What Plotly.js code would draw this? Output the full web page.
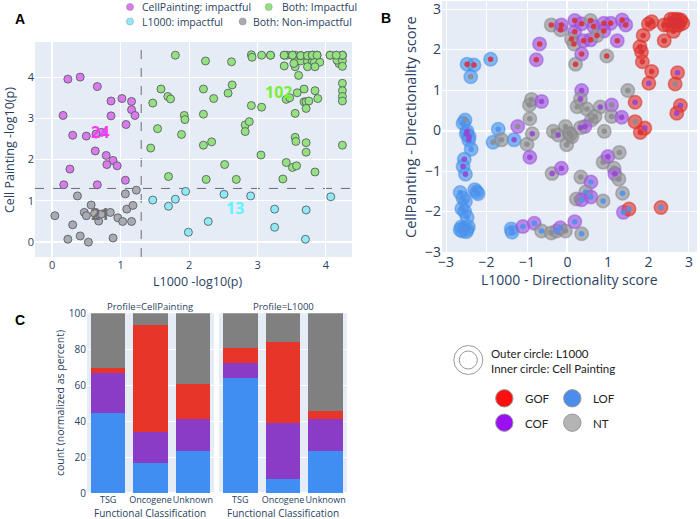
<!DOCTYPE html>
<html><head><meta charset="utf-8">
<script src="https://cdn.plot.ly/plotly-3.0.1.min.js"></script>
<style>html,body{margin:0;padding:0;background:#fff}#chart{width:700px;height:519px}</style>
</head><body><div id="chart"></div>
<script>
// ---------- Panel A data: -log10(p) per gene ----------
const SIG = 1.30103; // -log10(0.05)
const cpImpX = [0.23,0.41,0.66,0.86,1.02,1.16,1.16,0.16,0.86,1.21,1.08,0.30,0.50,0.63,0.79,0.89,0.80,0.95,0.26,1.07,0.17,0.66,0.72,0.64];
const cpImpY = [3.95,4.00,3.77,3.42,3.48,3.41,3.21,3.07,3.06,3.07,2.85,2.59,2.57,2.21,2.10,1.98,1.88,1.85,1.77,1.50,1.39,1.39,2.66,2.62];
const bothX = [1.80,2.91,3.06,3.19,3.39,3.43,3.51,3.55,3.63,3.73,3.80,3.83,3.87,4.06,4.15,4.24,
  2.92,2.24,2.62,3.55,3.63,3.73,3.80,3.83,3.91,4.19,4.16,4.24,4.24,3.39,3.55,3.73,3.84,3.53,3.60,
  1.59,1.69,1.73,1.47,1.93,1.94,1.54,1.89,1.44,2.21,2.63,2.57,2.36,2.91,3.06,3.42,3.47,3.58,3.68,
  3.84,3.88,3.68,3.71,3.75,3.71,3.55,4.24,4.24,4.24,4.24,2.21,2.82,2.88,2.82,2.21,2.33,3.55,3.56,
  3.71,3.71,4.24,3.05,2.52,3.42,3.51,3.57,3.84,1.70,2.25,2.69,3.37,
  4.24,4.24,4.24,3.51,3.51,3.63,3.63,3.73,3.73,3.80,3.80,3.87,4.06,4.15,3.19,3.39];
const bothY = [4.53,4.54,4.53,4.53,4.53,4.53,4.53,4.53,4.52,4.52,4.53,4.53,4.53,4.53,4.53,4.53,
  4.48,4.39,4.37,4.38,4.39,4.38,4.39,4.36,4.36,4.33,4.41,4.40,4.26,4.27,4.25,4.25,4.25,4.33,4.04,
  3.71,3.53,3.47,3.37,3.07,2.97,2.75,2.61,2.28,3.71,3.81,3.61,3.48,3.31,3.27,3.46,3.50,3.62,3.71,
  3.67,3.48,3.40,3.40,3.42,3.24,3.12,3.85,3.67,3.53,3.42,3.10,2.84,2.92,2.68,2.35,2.43,2.54,2.44,
  2.41,2.18,2.35,2.11,1.88,1.93,1.81,1.85,1.70,1.59,1.52,1.52,1.53,
  4.53,4.53,4.53,4.53,4.53,4.52,4.52,4.52,4.52,4.53,4.53,4.53,4.53,4.53,4.53,4.53];
const l1kImpX = [1.47,1.70,1.80,1.95,1.99,2.28,2.51,2.90,3.25,3.25,3.71,3.70,4.07];
const l1kImpY = [1.02,0.87,1.04,1.23,0.24,0.50,1.16,1.12,0.80,0.36,0.78,0.07,1.10];
const noneX = [0.04,0.37,0.57,0.47,0.50,0.68,0.85,0.96,1.03,1.16,1.09,1.18,1.07,1.23,0.30,0.41,0.23,0.53,0.89,0.72,0.62];
const noneY = [0.64,1.12,0.90,0.72,0.64,0.51,0.72,0.59,0.50,0.50,0.80,0.89,1.17,1.26,0.42,0.15,0.07,0.00,0.10,0.68,0.70];
const groupNames = ['CellPainting: impactful','Both: Impactful','L1000: impactful','Both: Non-impactful'];

// ---------- Panel B data: directionality scores ----------
const l1kScore = [-2.48,-2.31,-2.39,-1.90,-2.53,-2.58,-2.48,-2.43,-2.50,-2.44,-2.38,-2.55,-2.58,-2.52,-2.65,-2.58,-2.52,-2.61,-2.54,-2.48,
  -2.62,-2.55,-2.48,-2.45,-2.60,-2.50,-2.65,-2.29,-2.24,-2.21,-1.71,-1.84,-1.63,-1.32,-1.39,-1.37,-1.10,-0.82,-0.64,-0.40,
  -0.27,-0.18,-0.05,0.18,0.35,-1.00,-0.93,-0.38,-0.15,-0.02,-0.87,-0.35,-0.23,0.04,0.11,0.33,0.58,0.45,0.22,0.35,
  0.58,0.88,0.88,1.00,1.28,1.15,1.17,1.27,1.36,1.38,1.52,2.31,0.91,1.80,1.91,-1.23,-0.93,-0.94,-0.89,-0.64,
  -0.77,-0.69,-0.40,-0.17,-0.15,0.18,0.18,0.35,0.57,0.65,0.90,1.07,0.90,1.35,1.44,0.10,0.16,0.40,0.57,0.73,
  1.23,0.35,0.20,0.97,0.35,0.32,0.24,0.48,0.81,1.09,1.09,1.34,1.49,0.59,0.68,0.43,0.32,-0.05,0.07,1.67,
  1.67,2.08,2.00,2.39,2.55,2.63,2.72,2.80,2.58,2.65,2.72,2.50,2.62,2.75,2.85,2.68,2.78,1.87,2.39,1.79,
  1.83,1.85,2.08,2.01,2.72,2.66,2.79,2.70];
const cpScore = [1.64,1.62,1.33,1.76,0.26,0.18,-0.02,-0.15,-0.08,-0.23,-0.46,-0.71,-0.89,-1.08,-1.53,-1.67,-1.75,-1.93,-2.00,-2.14,
  -2.38,-2.42,-2.44,-2.38,-2.48,-2.50,-2.45,-1.46,-1.51,-1.56,0.03,-0.29,-0.23,-0.23,-2.43,-2.51,-2.37,-2.29,-2.48,-2.53,
  -2.48,-2.40,-2.48,-2.25,-2.55,-0.34,-0.66,-1.06,-0.93,-0.35,-0.08,-0.02,-0.11,-0.06,-0.15,-1.15,-1.27,-1.52,-1.69,-1.71,
  -1.64,-1.74,-0.78,-0.64,-0.54,-0.93,-1.07,-1.20,-1.55,-2.02,-1.94,-1.90,-0.02,-0.05,0.06,0.10,0.29,0.63,0.77,0.72,
  1.75,2.14,2.61,2.49,2.61,2.72,2.44,2.64,2.72,2.57,2.65,2.65,2.46,2.73,2.61,2.26,2.14,2.22,2.24,2.35,
  2.22,1.89,1.64,1.84,0.99,0.78,0.59,0.53,0.58,0.63,0.35,0.33,0.99,0.26,0.35,0.10,0.07,0.10,-0.10,0.70,
  0.22,2.69,2.63,2.61,2.75,2.75,2.75,2.73,2.62,2.62,2.62,2.60,2.45,2.60,2.65,2.70,2.70,2.35,2.22,2.07,
  1.94,1.70,1.46,1.17,1.43,1.15,0.62,0.43];
const l1kClass = ['LOF','LOF','LOF','LOF','LOF','LOF','LOF','LOF','LOF','LOF','LOF','LOF','LOF','LOF','LOF','LOF','LOF','LOF','LOF','LOF',
  'LOF','LOF','LOF','LOF','LOF','LOF','LOF','LOF','LOF','LOF','LOF','LOF','NT','LOF','LOF','LOF','COF','COF','NT','NT',
  'NT','COF','NT','COF','NT','NT','COF','NT','COF','NT','NT','NT','NT','NT','NT','NT','COF','NT','NT','COF',
  'COF','NT','NT','COF','NT','NT','COF','NT','NT','COF','GOF','GOF','NT','GOF','GOF','COF','NT','NT','NT','COF',
  'COF','COF','NT','NT','COF','COF','COF','COF','NT','COF','COF','COF','COF','COF','COF','NT','NT','COF','COF','NT',
  'COF','COF','NT','NT','COF','NT','NT','NT','NT','COF','NT','COF','NT','NT','NT','COF','NT','NT','NT','GOF',
  'GOF','GOF','GOF','GOF','GOF','GOF','GOF','GOF','GOF','GOF','GOF','GOF','GOF','GOF','GOF','GOF','GOF','GOF','GOF','GOF',
  'GOF','GOF','GOF','GOF','GOF','GOF','GOF','GOF'];
const cpClass = ['GOF','GOF','NT','GOF','NT','LOF','COF','COF','COF','COF','LOF','COF','COF','COF','LOF','LOF','LOF','LOF','LOF','LOF',
  'LOF','LOF','LOF','LOF','LOF','LOF','LOF','LOF','LOF','LOF','LOF','NT','NT','COF','LOF','LOF','LOF','LOF','LOF','NT',
  'LOF','LOF','NT','LOF','LOF','NT','COF','COF','COF','NT','COF','NT','COF','NT','NT','NT','LOF','LOF','NT','LOF',
  'LOF','LOF','NT','COF','NT','NT','COF','NT','LOF','LOF','LOF','LOF','NT','GOF','COF','NT','NT','NT','NT','COF',
  'GOF','GOF','GOF','GOF','GOF','GOF','GOF','GOF','GOF','GOF','GOF','GOF','GOF','GOF','GOF','GOF','GOF','GOF','GOF','GOF',
  'GOF','GOF','GOF','GOF','COF','COF','NT','NT','COF','NT','NT','COF','NT','NT','NT','COF','COF','NT','NT','COF',
  'NT','GOF','GOF','GOF','GOF','GOF','GOF','GOF','GOF','GOF','GOF','GOF','GOF','GOF','GOF','GOF','GOF','GOF','GOF','GOF',
  'GOF','GOF','GOF','COF','COF','NT','COF','COF'];

// ---------- Panel C data: percent of genes per class ----------
const funcCats = ['TSG','Oncogene','Unknown'];
const cpLOF = [44.4,17.0,23.7], cpCOF = [22.3,17.2,17.4], cpGOF = [2.7,59.3,19.6], cpNT = [30.6,6.5,39.3];
const lkLOF = [63.9,7.8,23.7], lkCOF = [8.3,31.4,17.4], lkGOF = [8.4,45.0,4.6], lkNT = [19.4,15.8,54.3];
const classNames = ['GOF','LOF','COF','NT'];

// ---------- styling ----------
const W = 700, H = 519;
const fx = p => p / W, fy = p => 1 - p / H;
const TXT = '#2a3f5f', FONT = '"Open Sans", verdana, arial, sans-serif';
const aColors = ['#DA7AEC', '#94E27F', '#8FE9F6', '#A9AAB2'];
const labelColors = ['#F23DF2', '#78EE3A', '#5FF2FF', '#6E6E6E'];
const outerFill = {GOF:'rgba(230,60,50,0.68)', LOF:'rgba(80,155,240,0.68)', COF:'rgba(165,90,225,0.68)', NT:'rgba(150,150,152,0.68)'};
const outerLine = {GOF:'rgba(215,45,40,0.55)', LOF:'rgba(70,140,230,0.5)', COF:'rgba(150,75,215,0.5)', NT:'rgba(130,130,132,0.5)'};
const innerFill = {GOF:'rgba(215,50,55,0.9)', LOF:'rgba(80,145,235,0.9)', COF:'rgba(150,70,210,0.9)', NT:'rgba(140,140,142,0.9)'};
const barColors = {LOF:'#418EF2', COF:'#8B3CC6', GOF:'#E8352A', NT:'#808080'};
const legendSwatch = {GOF:'#FF1010', LOF:'#4A8DEB', COF:'#9A10F0', NT:'#B4B4B4'};

const traces = [];
const aSets = [[cpImpX,cpImpY],[bothX,bothY],[l1kImpX,l1kImpY],[noneX,noneY]];
aSets.forEach((s,i) => traces.push({type:'scatter', mode:'markers', x:s[0], y:s[1], name:groupNames[i], xaxis:'x', yaxis:'y',
  marker:{size:8, color:aColors[i], line:{color:'rgba(85,90,95,0.85)', width:1}}, showlegend:false, hoverinfo:'skip'}));

traces.push({type:'scatter', mode:'markers', x:l1kScore, y:cpScore, xaxis:'x2', yaxis:'y2', showlegend:false, hoverinfo:'skip',
  marker:{size:13.5, color:l1kClass.map(c=>outerFill[c]), line:{color:l1kClass.map(c=>outerLine[c]), width:1.5}}});
traces.push({type:'scatter', mode:'markers', x:l1kScore, y:cpScore, xaxis:'x2', yaxis:'y2', showlegend:false, hoverinfo:'skip',
  marker:{size:5.5, color:cpClass.map(c=>innerFill[c]), line:{width:0}}});

const cpBars = {LOF:cpLOF, COF:cpCOF, GOF:cpGOF, NT:cpNT};
const lkBars = {LOF:lkLOF, COF:lkCOF, GOF:lkGOF, NT:lkNT};
['LOF','COF','GOF','NT'].forEach(k => {
  traces.push({type:'bar', x:funcCats, y:cpBars[k], name:k, xaxis:'x3', yaxis:'y3', marker:{color:barColors[k], line:{width:0}}, showlegend:false, hoverinfo:'skip'});
  traces.push({type:'bar', x:funcCats, y:lkBars[k], name:k, xaxis:'x4', yaxis:'y4', marker:{color:barColors[k], line:{width:0}}, showlegend:false, hoverinfo:'skip'});
});

const ax = (o) => Object.assign({gridcolor:'white', zerolinecolor:'white', zerolinewidth:2, showline:false, ticks:'', automargin:false,
  ticklabeloverflow:'allow', tickfont:{family:FONT, color:TXT, size:11}}, o);

const ann = [];
const A = (text, x, y, o) => ann.push(Object.assign({text, x:fx(x), y:fy(y), xref:'paper', yref:'paper', showarrow:false,
  xanchor:'center', yanchor:'middle', font:{family:FONT, color:TXT, size:12}}, o));
// panel letters
A('<b>A</b>', 20, 19, {font:{family:'Liberation Sans, Arial', size:14, color:'#000'}});
A('<b>B</b>', 386, 18, {font:{family:'Liberation Sans, Arial', size:14, color:'#000'}});
A('<b>C</b>', 20, 320, {font:{family:'Liberation Sans, Arial', size:14, color:'#000'}});
// axis titles
A('L1000 -log10(p)', 197, 281, {font:{family:FONT, color:TXT, size:12.5}});
A('Cell Painting -log10(p)', 10, 150, {textangle:-90, font:{family:FONT, color:TXT, size:12.5}});
A('L1000 - Directionality score', 569, 279, {font:{family:FONT, color:TXT, size:14}});
A('CellPainting - Directionality score', 410, 127, {textangle:-90, font:{family:FONT, color:TXT, size:14.5}});
A('count (normalized as percent)', 60, 403, {textangle:-90, font:{family:FONT, color:TXT, size:10.5}});
A('Functional Classification', 150, 512.5, {font:{family:FONT, color:TXT, size:10}});
A('Functional Classification', 283, 512.5, {font:{family:FONT, color:TXT, size:10}});
A('Profile=CellPainting', 150, 306.5, {font:{family:FONT, color:TXT, size:9.5}});
A('Profile=L1000', 283, 306.5, {font:{family:FONT, color:TXT, size:9.5}});
// panel A legend text
const LA = {family:FONT, color:TXT, size:10.5};
A(groupNames[0], 140, 7, {xanchor:'left', font:LA});
A(groupNames[1], 280, 7, {xanchor:'left', font:LA});
A(groupNames[2], 140, 21.5, {xanchor:'left', font:LA});
A(groupNames[3], 250.7, 21.5, {xanchor:'left', font:LA});
// count labels in panel A (counts from the data)
const countPos = [[0.70,2.66],[3.30,3.65],[2.67,0.83],[0.70,0.67]];
aSets.forEach((s,i) => ann.push({text:'<b>'+s[0].length+'</b>', x:countPos[i][0], y:countPos[i][1], xref:'x', yref:'y', showarrow:false,
  font:{family:FONT, size:16, color:labelColors[i]}}));
// panel B legend text
const LF = {family:'Lato, "Noto Sans", sans-serif', color:'#222', size:11.5};
A('Outer circle: L1000', 489, 353, {xanchor:'left', font:LF});
A('Inner circle: Cell Painting', 489, 368, {xanchor:'left', font:LF});
A('GOF', 523, 398.5, {xanchor:'left', font:LF});
A('LOF', 591, 398.5, {xanchor:'left', font:LF});
A('COF', 523, 423, {xanchor:'left', font:LF});
A('NT', 591, 423, {xanchor:'left', font:LF});

const circ = (cx, cy, r, fill, lc, lw) => ({type:'circle', xref:'paper', yref:'paper', xsizemode:'pixel', ysizemode:'pixel',
  xanchor:fx(cx), yanchor:fy(cy), x0:-r, x1:r, y0:-r, y1:r, fillcolor:fill, line:{color:lc, width:lw}, layer:'above'});
const shapes = [
  {type:'line', xref:'x', yref:'y domain', x0:SIG, x1:SIG, y0:0, y1:1, line:{color:'#6a6d75', width:1, dash:'dash'}, layer:'below'},
  {type:'line', xref:'x domain', yref:'y', x0:0, x1:1, y0:SIG, y1:SIG, line:{color:'#6a6d75', width:1, dash:'dash'}, layer:'below'},
  circ(130, 7, 3.6, aColors[0], 'rgba(120,120,130,0.6)', 0.6),
  circ(268.7, 7, 3.6, aColors[1], 'rgba(120,120,130,0.6)', 0.6),
  circ(130, 21.5, 3.6, aColors[2], 'rgba(120,120,130,0.6)', 0.6),
  circ(242.7, 21.5, 3.6, aColors[3], 'rgba(120,120,130,0.6)', 0.6),
  circ(468.3, 360, 14.5, 'rgba(0,0,0,0)', '#9a9a9a', 1),
  circ(468.3, 360, 9, 'rgba(0,0,0,0)', '#9a9a9a', 1),
  circ(504.3, 398.3, 8.7, legendSwatch.GOF, '#9a9a9a', 1),
  circ(572.3, 398.3, 8.7, legendSwatch.LOF, '#9a9a9a', 1),
  circ(504.3, 422.7, 8.7, legendSwatch.COF, '#9a9a9a', 1),
  circ(572.3, 422.7, 8.7, legendSwatch.NT, '#9a9a9a', 1)
];

const layout = {
  width:W, height:H, margin:{l:0,r:0,t:0,b:0}, paper_bgcolor:'white', plot_bgcolor:'#E5ECF6',
  font:{family:FONT, color:TXT}, showlegend:false, barmode:'stack', bargap:0.19,
  xaxis: ax({domain:[fx(35), fx(352)], range:[-0.25,4.38], anchor:'y', dtick:1}),
  yaxis: ax({domain:[fy(257), fy(42)], range:[-0.36,4.85], anchor:'x', dtick:1}),
  xaxis2: ax({domain:[fx(442), fx(697)], range:[-3.1,3.2], anchor:'y2', dtick:1, tickfont:{family:FONT,color:TXT,size:14}}),
  yaxis2: ax({domain:[fy(252), fy(1)], range:[-3.0,3.2], anchor:'x2', dtick:1, tickfont:{family:FONT,color:TXT,size:14}}),
  xaxis3: ax({domain:[fx(87), fx(214)], anchor:'y3', type:'category', tickangle:0, tickfont:{family:FONT,color:TXT,size:9}}),
  yaxis3: ax({domain:[fy(493.3), fy(313.3)], range:[0,100], anchor:'x3', dtick:20, tickfont:{family:FONT,color:TXT,size:10}}),
  xaxis4: ax({domain:[fx(219), fx(347)], anchor:'y4', type:'category', tickangle:0, tickfont:{family:FONT,color:TXT,size:9}}),
  yaxis4: ax({domain:[fy(493.3), fy(313.3)], range:[0,100], anchor:'x4', dtick:20, showticklabels:false}),
  annotations: ann, shapes: shapes
};
Plotly.newPlot('chart', traces, layout, {displayModeBar:false, staticPlot:true});
</script></body></html>
